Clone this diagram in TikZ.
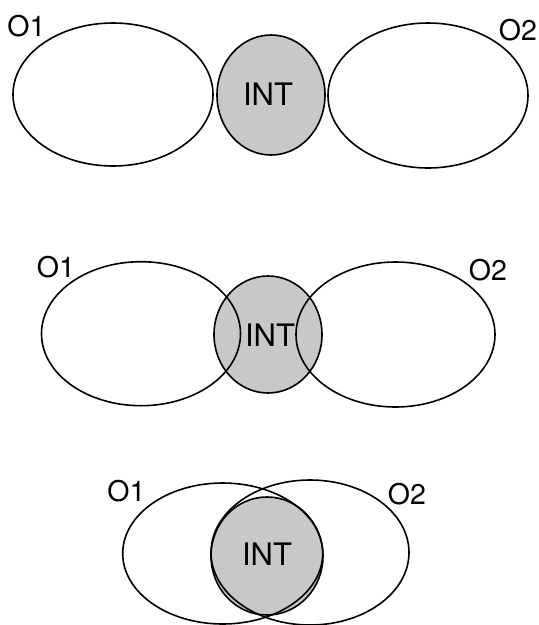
\documentclass[tikz,border=0pt]{standalone}
\usepackage{fontspec}
\setmainfont{TeX Gyre Heros}
\usetikzlibrary{shapes.geometric}
\definecolor{intgray}{RGB}{200,200,200}
\tikzset{
  oval/.style={ellipse, draw=black, line width=1.6pt, inner sep=0pt},
  intfill/.style={ellipse, fill=intgray, inner sep=0pt},
  intline/.style={ellipse, draw=black, line width=1.6pt, inner sep=0pt},
  lbl/.style={inner sep=0pt, font=\fontsize{28.5}{30}\selectfont},
  intlbl/.style={inner sep=0pt, font=\fontsize{31}{34}\selectfont}
}
\begin{document}
\begin{tikzpicture}[x=1pt,y=-1pt]
\useasboundingbox (0,0) rectangle (539,625);
% Row 1
\node[intfill, minimum width=108pt, minimum height=120pt] (g1) at (271,95) {};
\node[oval, minimum width=200pt, minimum height=143pt] (a1) at (113,94.5) {};
\node[oval, minimum width=200pt, minimum height=145pt] (b1) at (428,95.5) {};
\node[intline, minimum width=108pt, minimum height=120pt] (c1) at (271,95) {};
\node[intlbl] (t1) at (268,94.5) {INT};
\node[lbl] (la1) at (26.5,26.5) {O1};
\node[lbl] (lb1) at (518,30) {O2};
% Row 2
\node[intfill, minimum width=108pt, minimum height=117pt] (g2) at (268,334.5) {};
\node[oval, minimum width=199pt, minimum height=144pt] (a2) at (141,333.7) {};
\node[oval, minimum width=199pt, minimum height=145pt] (b2) at (395.5,334.5) {};
\node[intline, minimum width=108pt, minimum height=117pt] (c2) at (268,334.5) {};
\node[intlbl] (t2) at (270,335) {INT};
\node[lbl] (la2) at (56,267) {O1};
\node[lbl] (lb2) at (488,270) {O2};
% Row 3
\node[intfill, minimum width=112pt, minimum height=118pt] (g3) at (267,556) {};
\node[oval, minimum width=200pt, minimum height=141pt] (a3) at (222.7,553.5) {};
\node[oval, minimum width=198pt, minimum height=145pt] (b3) at (310,552.5) {};
\node[intline, minimum width=112pt, minimum height=118pt] (c3) at (267,556) {};
\node[intlbl] (t3) at (267,554) {INT};
\node[lbl] (la3) at (126.5,491.5) {O1};
\node[lbl] (lb3) at (407,494) {O2};
\end{tikzpicture}
\end{document}
